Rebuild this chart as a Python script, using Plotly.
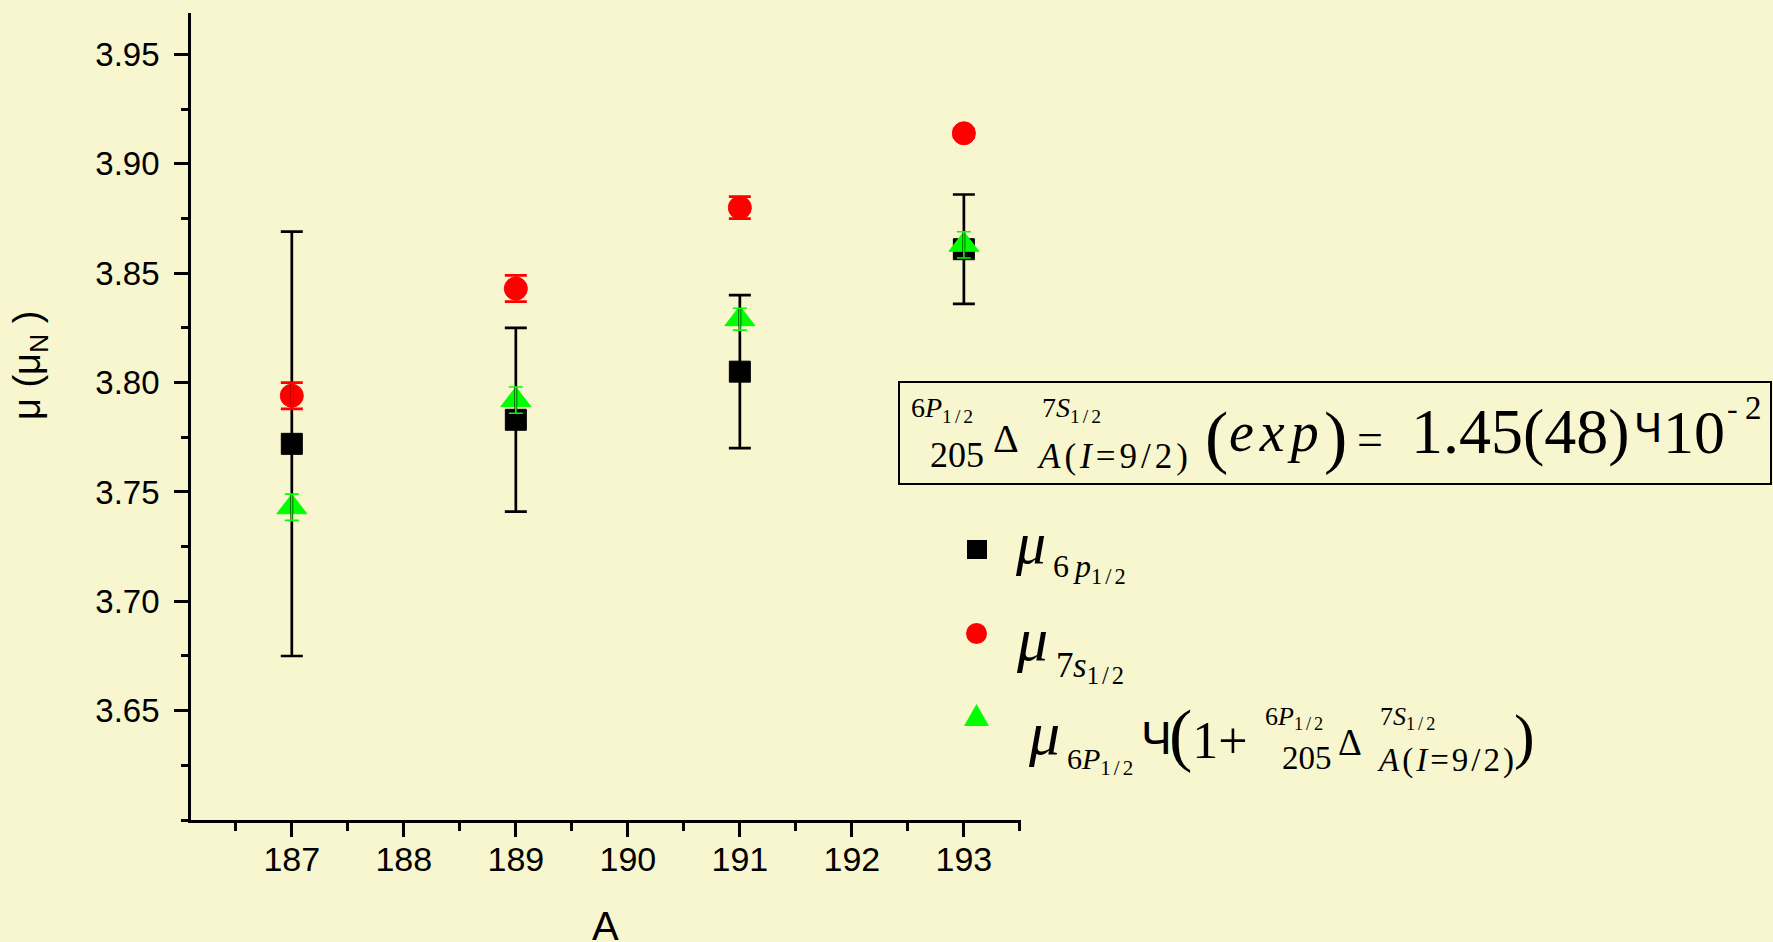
import plotly.graph_objects as go

# ---- data -------------------------------------------------------------
mass_number = [187, 189, 191, 193]

mu_6p = [3.772, 3.783, 3.805, 3.861]
mu_6p_err = [0.097, 0.042, 0.035, 0.025]

mu_7s = [3.794, 3.843, 3.880, 3.914]
mu_7s_err = [0.006, 0.006, 0.005, 0.002]

mu_corr = [3.743, 3.792, 3.829, 3.863]
mu_corr_err = [0.006, 0.006, 0.005, 0.006]

x_ticks = [187, 188, 189, 190, 191, 192, 193]
y_ticks = [3.65, 3.70, 3.75, 3.80, 3.85, 3.90, 3.95]

# ---- page geometry ----------------------------------------------------
W, H = 1773, 942
ML, MR, MT, MB = 191, 752, 13, 122
PW, PH = W - ML - MR, H - MT - MB

BG = "rgb(247,246,206)"
SERIF = "Liberation Serif"
SANS = "Liberation Sans"
ASC = {SERIF: 0.891, SANS: 0.905}


def fx(xp):
    return (xp - ML) / PW


def fy(yp):
    return (H - MB - yp) / PH


def spaced(text, px):
    return "<span style='letter-spacing:{}px'>{}</span>".format(px, text)


fig = go.Figure()

# markers
fig.add_trace(go.Scatter(x=mass_number, y=mu_6p, mode="markers",
                         marker=dict(symbol="square", size=21, color="black",
                                     line=dict(color="black", width=1)),
                         showlegend=False))
fig.add_trace(go.Scatter(x=mass_number, y=mu_7s, mode="markers",
                         marker=dict(symbol="circle", size=23, color="#FF0000",
                                     line=dict(color="#FF0000", width=1)),
                         showlegend=False))
fig.add_trace(go.Scatter(x=mass_number, y=mu_corr, mode="markers",
                         marker=dict(symbol="triangle-up", size=26, color="#00FF00",
                                     line=dict(color="#00FF00", width=1)),
                         showlegend=False))

# error bars drawn above all markers
for yv, ev, col, th, wd in [(mu_6p, mu_6p_err, "black", 2.7, 11),
                            (mu_7s, mu_7s_err, "#FF0000", 2.7, 11),
                            (mu_corr, mu_corr_err, "#00FF00", 1.6, 7)]:
    fig.add_trace(go.Scatter(x=mass_number, y=yv, mode="markers",
                             marker=dict(size=1, color="rgba(0,0,0,0)"),
                             error_y=dict(type="data", array=ev, visible=True,
                                          color=col, thickness=th, width=wd),
                             showlegend=False, hoverinfo="skip"))

annotations = []


def put(text, x, base, size, family=SERIF, anchor="left", top_size=None):
    # top_size: the largest font inside the text, which sets the box top
    ts = top_size or size
    annotations.append(dict(
        text=text, x=fx(x), y=fy(base - ASC[family] * ts),
        xref="paper", yref="paper", xanchor=anchor, yanchor="top",
        showarrow=False, borderpad=0,
        font=dict(family=family, size=size, color="black")))


half = "<sub>" + spaced("1/2", 3) + "</sub>"
big_paren = "<span style='font-size:70px'>(</span>"

# boxed expression
put("6<i>P</i>" + half, 910, 416, 28)
put("205", 929, 466, 36)
put("Δ", 992, 451, 40)
put("7<i>S</i>" + half, 1041, 416, 28)
put(spaced("<i>A</i>(<i>I</i>=9/2)", 4), 1036, 467, 35)
put("(", 1204, 459, 70)
put(spaced("<i>exp</i>", 6), 1228, 450, 56)
put(")", 1323, 459, 70)
put("=", 1356, 454, 46)
put("1.45(48)", 1410, 452, 64)
put("Ч", 1633, 441, 42, SANS)
put("10", 1662, 452, 62)
put("-", 1726, 418, 32)
put("2", 1744, 418, 33)

# legend labels
put("<i>μ</i>", 1014, 562, 60)
put("6", 1052, 576, 32)
put("<i>p</i>" + half, 1072, 576, 32)
put("<i>μ</i>", 1015, 659, 62)
put("7", 1055, 676, 35)
put("<i>s</i>" + half, 1072, 676, 35)
put("<i>μ</i>", 1027, 753, 62)
put("6<i>P</i>" + half, 1066, 768, 30)
put("Ч", 1140, 753, 46, SANS)
put(big_paren + "1+", 1168, 757, 52, top_size=70)
put("6<i>P</i>" + half, 1264, 724, 26)
put("205", 1281, 768, 33)
put("Δ", 1337, 754, 37)
put("7<i>S</i>" + half, 1379, 724, 26)
put(spaced("<i>A</i>(<i>I</i>=9/2)", 3), 1376, 770, 33)
put(")", 1513, 756, 62)

# axis titles
put("A", 605, 939, 40, SANS, anchor="center")
annotations.append(dict(
    text="μ (μ<sub>N</sub> )", x=fx(30), y=fy(366), xref="paper", yref="paper",
    xanchor="center", yanchor="middle", textangle=-90, showarrow=False,
    borderpad=0, font=dict(family=SANS, size=38, color="black")))

shapes = [
    # frame around the expression
    dict(type="rect", xref="paper", yref="paper",
         x0=fx(899), x1=fx(1771), y0=fy(484), y1=fy(382),
         line=dict(color="black", width=2), fillcolor=BG, layer="below"),
    # legend keys
    dict(type="rect", xref="paper", yref="paper",
         x0=fx(967), x1=fx(987), y0=fy(559), y1=fy(540),
         line=dict(width=0), fillcolor="black"),
    dict(type="circle", xref="paper", yref="paper",
         x0=fx(966), x1=fx(987), y0=fy(644), y1=fy(623),
         line=dict(width=0), fillcolor="#FF0000"),
    dict(type="path", xref="paper", yref="paper",
         path="M {:.5f},{:.5f} L {:.5f},{:.5f} L {:.5f},{:.5f} Z".format(
             fx(964), fy(726), fx(989), fy(726), fx(976.5), fy(704)),
         line=dict(width=0), fillcolor="#00FF00"),
]

axis_common = dict(showline=True, linecolor="black", linewidth=2.7,
                   ticks="outside", tickcolor="black", tickwidth=2.5,
                   ticklen=14, showgrid=False, zeroline=False, mirror=False)

fig.update_layout(
    width=W, height=H,
    margin=dict(l=ML, r=MR, t=MT, b=MB, pad=0),
    paper_bgcolor=BG, plot_bgcolor=BG,
    showlegend=False,
    xaxis=dict(range=[186.1, 193.51], tickvals=x_ticks,
               ticktext=[str(v) for v in x_ticks],
               tickfont=dict(family=SANS, size=34, color="black"),
               ticklabelstandoff=-7,
               minor=dict(dtick=0.5, tick0=186.5, ticks="outside", ticklen=8,
                          tickwidth=2.5, tickcolor="black"),
               **axis_common),
    yaxis=dict(range=[3.600, 3.969], tickvals=y_ticks,
               ticktext=["{:.2f}".format(v) for v in y_ticks],
               tickfont=dict(family=SANS, size=33, color="black"),
               ticklabelstandoff=8,
               minor=dict(dtick=0.025, tick0=3.625, ticks="outside", ticklen=7,
                          tickwidth=2.5, tickcolor="black"),
               **axis_common),
    annotations=annotations,
    shapes=shapes,
)

fig.write_html("out.html")
